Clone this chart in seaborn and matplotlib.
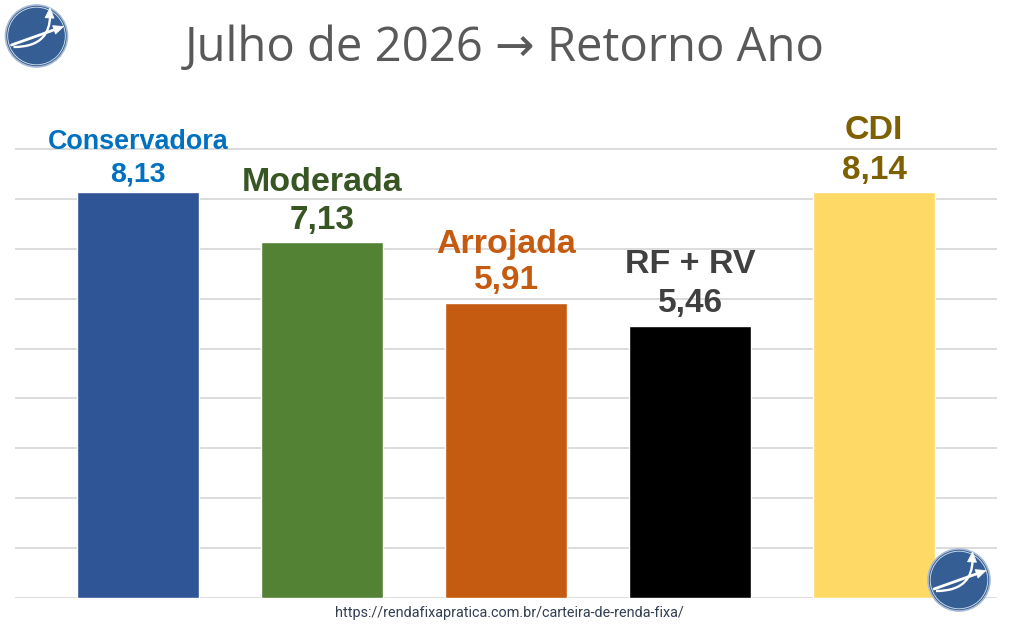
import matplotlib
matplotlib.use("Agg")
import matplotlib.pyplot as plt
import seaborn as sns
import pandas as pd
import numpy as np
from matplotlib.patches import Circle, Polygon
from matplotlib.path import Path
import matplotlib.patches as mpatches

categories = ["Conservadora", "Moderada", "Arrojada", "RF + RV", "CDI"]
values = [8.13, 7.13, 5.91, 5.46, 8.14]
value_labels = ["8,13", "7,13", "5,91", "5,46", "8,14"]
bar_colors = ["#2F5597", "#548235", "#C55A11", "#000000", "#FFD966"]
text_colors = ["#0070C0", "#375623", "#C55A11", "#404040", "#7F6000"]
label_sizes = [19.4, 24.5, 24.5, 24.5, 24.5]
value_sizes = [20.5, 24, 24, 24, 24]
title = "Julho de 2026 \u2192 Retorno Ano"
url = "https://rendafixapratica.com.br/carteira-de-renda-fixa/"

W, H = 1012, 631
sns.set_theme(style="white")
plt.rcParams["font.family"] = ["Liberation Sans", "DejaVu Sans"]

fig = plt.figure(figsize=(W / 100, H / 100), dpi=100)
fig.patch.set_facecolor("white")

left, right, bottom_px = 15, 997, 598
ymax = 9.6
px_per_unit = 49.9
top_px = bottom_px - ymax * px_per_unit
ax = fig.add_axes([left / W, (H - bottom_px) / H, (right - left) / W, (bottom_px - top_px) / H])

df = pd.DataFrame({"cat": categories, "val": values})
sns.barplot(data=df, x="cat", y="val", hue="cat", palette=bar_colors, legend=False,
            width=0.663, saturation=1, ax=ax, zorder=3)
ax.set_xlim(-0.668, 4.668)
ax.set_ylim(0, ymax)
ax.set_yticks(range(0, 10))
ax.yaxis.grid(True, color="#D9D9D9", linewidth=1.3, zorder=0)
ax.set_axisbelow(True)
ax.tick_params(left=False, bottom=False, labelleft=False, labelbottom=False)
ax.set_xlabel("")
ax.set_ylabel("")
for s in ax.spines.values():
    s.set_visible(False)

value_gaps = [11, 13, 14, 14, 13]
label_gaps = [32, 38, 36, 39, 40]
for i, (v, vl, lab) in enumerate(zip(values, value_labels, categories)):
    ax.annotate(vl, (i, v), xytext=(0, value_gaps[i] * 0.72), textcoords="offset points",
                ha="center", va="baseline", fontsize=value_sizes[i], fontweight="bold",
                color=text_colors[i], zorder=5)
    ax.annotate(lab, (i, v), xytext=(0, (value_gaps[i] + label_gaps[i]) * 0.72), textcoords="offset points",
                ha="center", va="baseline", fontsize=label_sizes[i], fontweight="bold",
                color=text_colors[i], zorder=5)

ov = fig.add_axes([0, 0, 1, 1], zorder=10)
ov.set_xlim(0, W)
ov.set_ylim(H, 0)
ov.axis("off")
ov.patch.set_alpha(0)

ov.text(505, 61, title, ha="center", va="baseline", fontsize=34,
        color="#595959", family=["Open Sans", "DejaVu Sans"])
ov.text(509, 617, url, ha="center", va="baseline", fontsize=10.4,
        color="#333F50", family=["Roboto", "DejaVu Sans"])


def head(tip, direction, length, width):
    d = np.asarray(direction, float)
    d = d / np.linalg.norm(d)
    p = np.array([-d[1], d[0]])
    tip = np.asarray(tip, float)
    b = tip - length * d
    return Polygon([tip, b + width / 2 * p, b - width / 2 * p], closed=True,
                   facecolor="white", edgecolor="white", linewidth=0.5)


def logo(cx, cy, r):
    ov.add_patch(Circle((cx, cy), r, facecolor="#345E94", edgecolor="#A7BBD4", linewidth=1.2))
    ov.add_patch(Circle((cx, cy), r - 2.2, facecolor="none", edgecolor="#DCE4EE", linewidth=0.6))
    s = r / 31.0
    c = np.array([cx, cy])
    # straight arrow
    a0 = c + s * np.array([-25, 9])
    a1 = c + s * np.array([27, -9.5])
    d = a1 - a0
    dn = d / np.linalg.norm(d)
    ov.plot([a0[0], a1[0] - 8 * s * dn[0]], [a0[1], a1[1] - 8 * s * dn[1]],
            color="white", linewidth=2.0 * s, solid_capstyle="round")
    ov.add_patch(head(a1, d, 10 * s, 9 * s))
    # curved arrow
    verts = [c + s * np.array(v) for v in [(-23, 11), (6, 11), (13, -4), (13.5, -19)]]
    path = Path(verts, [Path.MOVETO, Path.CURVE4, Path.CURVE4, Path.CURVE4])
    ov.add_patch(mpatches.PathPatch(path, facecolor="none", edgecolor="white", linewidth=1.7 * s))
    ov.add_patch(head(c + s * np.array([13.5, -28]), (0.05, -1), 10 * s, 9 * s))


logo(36.5, 36, 31)
logo(959, 580, 31)

fig.savefig("out.png", dpi=100, facecolor="white")
